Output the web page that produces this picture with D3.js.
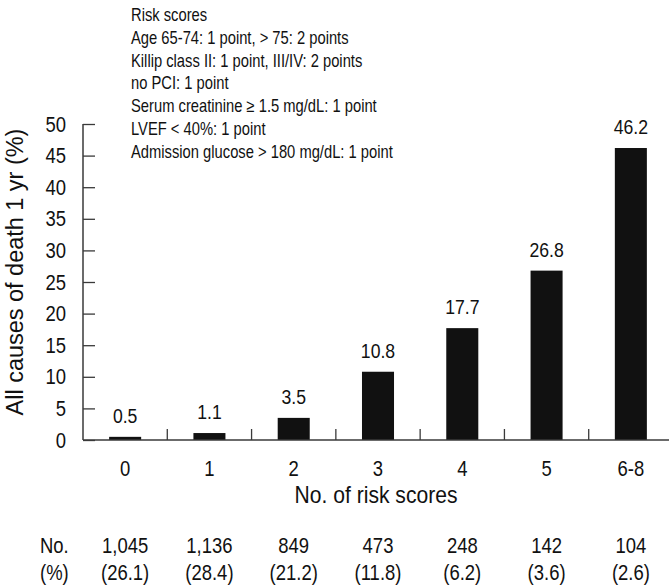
<!DOCTYPE html>
<html>
<head>
<meta charset="utf-8">
<script src="https://cdn.jsdelivr.net/npm/d3@7"></script>
<style>
  html, body { margin: 0; padding: 0; background: #fff; }
  svg { display: block; }
  text { font-family: "Liberation Sans", Arial, Helvetica, sans-serif; fill: #111; }
</style>
</head>
<body>
<svg id="chart" width="669" height="586"></svg>
<script>
// ---- data ----
const categories = ["0", "1", "2", "3", "4", "5", "6-8"];
const deathRates = [0.5, 1.1, 3.5, 10.8, 17.7, 26.8, 46.2];
const patientCounts = ["1,045", "1,136", "849", "473", "248", "142", "104"];
const patientPercents = ["(26.1)", "(28.4)", "(21.2)", "(11.8)", "(6.2)", "(3.6)", "(2.6)"];
const yTicks = [0, 5, 10, 15, 20, 25, 30, 35, 40, 45, 50];
const riskNotes = [
  "Risk scores",
  "Age 65-74: 1 point, > 75: 2 points",
  "Killip class II: 1 point, III/IV: 2 points",
  "no PCI: 1 point",
  "Serum creatinine \u2265 1.5 mg/dL: 1 point",
  "LVEF < 40%: 1 point",
  "Admission glucose > 180 mg/dL: 1 point"
];
const yTitle = "All causes of death 1 yr (%)";
const xTitle = "No. of risk scores";
const rowLabels = ["No.", "(%)"];

// ---- layout ----
const svg = d3.select("#chart");
const x0 = 83, x1 = 673, yBase = 440, yTop = 124;
const SX = 0.84; // horizontal condensing to mimic a condensed face

const x = d3.scaleBand().domain(categories).range([x0, x1])
  .paddingInner(0.62).paddingOuter(0.31);
const step = x.step();
const y = d3.scaleLinear().domain([0, 50]).range([yBase, yTop]);
const cx = d => x(d) + x.bandwidth() / 2;

const axisColor = "#3a3a3a";

// helper: condensed text anchored at (px, py)
function ctext(g, px, py, str, size, anchor, sx) {
  return g.append("text")
    .attr("transform", `translate(${px},${py}) scale(${sx || SX},1)`)
    .attr("text-anchor", anchor || "middle")
    .attr("font-size", size)
    .text(str);
}

// bars
svg.append("g").selectAll("rect").data(categories).join("rect")
  .attr("x", d => x(d))
  .attr("width", x.bandwidth())
  .attr("y", (d, i) => y(deathRates[i]))
  .attr("height", (d, i) => yBase - y(deathRates[i]))
  .attr("fill", "#111");

// value labels
const gv = svg.append("g");
categories.forEach((c, i) => ctext(gv, cx(c), y(deathRates[i]) - 14, deathRates[i].toFixed(1), 21));

// y axis
const yAxis = d3.axisRight(y).tickValues(yTicks).tickSize(12).tickFormat("");
const gy = svg.append("g").attr("transform", `translate(${x0},0)`).call(yAxis);
gy.select(".domain").remove();
gy.selectAll(".tick line").attr("stroke", axisColor).attr("stroke-width", 1.3);
svg.append("line").attr("x1", x0).attr("x2", x0).attr("y1", y(50)).attr("y2", yBase)
  .attr("stroke", axisColor).attr("stroke-width", 1.5);
const gyl = svg.append("g");
yTicks.forEach(t => ctext(gyl, 66, y(t) + 7.5, String(t), 22, "end"));

// x axis
svg.append("line").attr("x1", x0).attr("x2", 669).attr("y1", yBase).attr("y2", yBase)
  .attr("stroke", axisColor).attr("stroke-width", 1.5);
const boundaries = categories.slice(1).map(c => x(c) - (step - x.bandwidth()) / 2);
svg.append("g").selectAll("line").data(boundaries).join("line")
  .attr("x1", d => d).attr("x2", d => d)
  .attr("y1", yBase).attr("y2", yBase - 11)
  .attr("stroke", axisColor).attr("stroke-width", 1.3);
const gxl = svg.append("g");
categories.forEach(c => ctext(gxl, cx(c), 476, c, 22));

// axis titles
const yt = svg.append("text")
  .attr("text-anchor", "middle").attr("font-size", 24)
  .text(yTitle);
const ytLen = yt.node().getComputedTextLength();
yt.attr("transform", `translate(23,${(yTop + yBase) / 2 - 10}) rotate(-90) scale(${287 / ytLen},1)`);

const xt = svg.append("text")
  .attr("text-anchor", "middle").attr("font-size", 23)
  .text(xTitle);
const xtLen = xt.node().getComputedTextLength();
xt.attr("transform", `translate(${(x0 + x1) / 2 - 2},503) scale(${163 / xtLen},1)`);

// table beneath
const gt = svg.append("g");
ctext(gt, 40, 553, rowLabels[0], 22, "start");
ctext(gt, 40, 580, rowLabels[1], 22, "start");
categories.forEach((c, i) => {
  ctext(gt, cx(c), 553, patientCounts[i], 22);
  ctext(gt, cx(c), 580, patientPercents[i], 22);
});

// risk score notes
const gn = svg.append("g");
riskNotes.forEach((s, i) => ctext(gn, 131, 20.7 + i * 22.9, s, 18, "start", 0.82));
</script>
</body>
</html>
